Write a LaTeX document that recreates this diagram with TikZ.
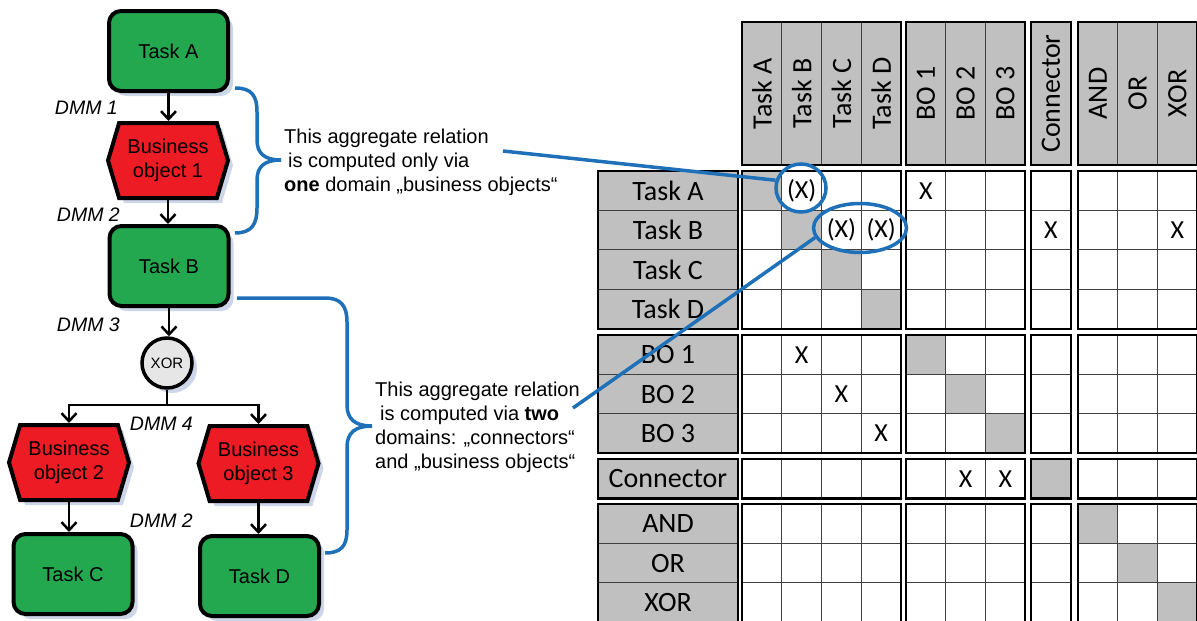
\documentclass[tikz,border=0pt]{standalone}
\usepackage{fontspec}
\setmainfont{Liberation Sans}
\newfontfamily\calibrifont{Carlito}
\usepackage{tikz}
\usetikzlibrary{shapes.geometric,shapes.symbols,arrows.meta,positioning,calc,shadows}
\definecolor{taskgreen}{RGB}{35,168,80}
\definecolor{objectred}{RGB}{237,28,36}
\definecolor{gatelight}{RGB}{230,230,230}
\definecolor{shadowblue}{RGB}{205,214,232}
\definecolor{relblue}{RGB}{30,112,184}
\definecolor{cellgrey}{RGB}{192,192,192}

\tikzset{
  softshadow/.style={drop shadow={shadow xshift=5pt, shadow yshift=-5pt, fill=shadowblue, opacity=1}},
  taskbox/.style={draw, line width=4pt, fill=taskgreen, rounded corners=12pt, minimum width=119pt, minimum height=80pt, font=\fontsize{20}{24}\selectfont, softshadow},
  objbox/.style={shape=signal, signal to=west and east, signal pointer angle=147, draw, line width=4pt, fill=objectred, minimum width=120pt, minimum height=75pt, inner sep=0pt, align=center, font=\fontsize{20}{24}\selectfont, softshadow},
  gatebox/.style={circle, draw, line width=3.5pt, fill=gatelight, minimum size=50pt, inner sep=0pt, font=\fontsize{15}{15}\selectfont, softshadow},
  dmm/.style={anchor=east, inner sep=0pt, font=\itshape\fontsize{19.5}{19.5}\selectfont},
  flow/.style={line width=2.5pt, -{Straight Barb[length=8pt, width=15pt]}},
  note/.style={anchor=north west, align=left, inner sep=0pt, font=\fontsize{20}{24}\selectfont},
  brace/.style={draw=relblue, line width=3.5pt},
  ring/.style={ellipse, draw=relblue, line width=3.5pt, inner sep=0pt},
  lead/.style={draw=relblue, line width=3.5pt},
  hdr/.style={inner sep=0pt, font=\calibrifont\fontsize{28}{28}\selectfont},
  xmark/.style={inner sep=0pt, font=\calibrifont\fontsize{26}{26}\selectfont},
  thinrule/.style={line width=0.9pt, draw=black!75},
  blockrule/.style={line width=2.2pt, draw=black},
}

\begin{document}
\begin{tikzpicture}[x=1pt, y=-1pt]
  \useasboundingbox (0,0) rectangle (1197,621);

  % process chain
  \node[taskbox] (taskA) at (168.5,51) {Task A};
  \node[objbox] (bo1) at (168,160.5) {Business\\object 1};
  \node[taskbox] (taskB) at (169,266) {Task B};
  \node[gatebox] (xor) at (167,363) {XOR};
  \coordinate (fork) at (167,405);
  \node[objbox] (bo2) at (69,462.5) {Business\\object 2};
  \node[objbox] (bo3) at (258.5,463.5) {Business\\object 3};
  \node[taskbox] (taskC) at (73,574) {Task C};
  \node[taskbox] (taskD) at (259.5,576) {Task D};

  \draw[flow] (taskA.south) -- (taskA.south |- bo1.north);
  \draw[flow] (bo1.south) -- (bo1.south |- taskB.north);
  \draw[flow] (taskB.south) -- (taskB.south |- xor.north);
  \draw[line width=2.5pt] (xor.south) -- (fork);
  \draw[flow] (fork) -| (bo2.north);
  \draw[flow] (fork) -| (bo3.north);
  \draw[flow] (bo2.south) -- (bo2.south |- taskC.north);
  \draw[flow] (bo3.south) -- (bo3.south |- taskD.north);

  \node[dmm] (dmm1) at (118,108) {DMM 1};
  \node[dmm] (dmm2) at (120,215) {DMM 2};
  \node[dmm] (dmm3) at (120,325) {DMM 3};
  \node[dmm] (dmm4) at (193,424) {DMM 4};
  \node[dmm] (dmm5) at (193,521) {DMM 2};

  % braces and notes
  \draw[brace] (235,88) .. controls (252,88) and (257,96) .. (257,112) -- (257,140)
    .. controls (257,153) and (264,160) .. (281,160)
    .. controls (264,160) and (257,167) .. (257,180) -- (257,208)
    .. controls (257,224) and (252,233) .. (235,233);
  \draw[brace] (237,298) -- (325,298) .. controls (341,298) and (347,306) .. (347,322) -- (347,405)
    .. controls (347,419) and (355,426) .. (372,426)
    .. controls (355,426) and (347,433) .. (347,447) -- (347,530)
    .. controls (347,546) and (341,553) .. (325,553);

  \node[note] (note1) at (284,129) {This aggregate relation\\\hspace{4pt}is computed only via\\\textbf{one} domain „business objects“};
  \node[note] (note2) at (375,382) {This aggregate relation\\\hspace{5pt}is computed via \textbf{two}\\domains: „connectors“\\and „business objects“};

  % DSM: column headers
  \def\cw{39.75}
  \def\rh{39.4}
  \foreach \gx/\n/\o in {742/4/0,906/3/4,1031/1/7,1078/3/8}{
    \foreach \a in {1,...,\n}{
      \pgfmathtruncatemacro\colno{\o+\a}
      \draw[thinrule, fill=cellgrey] ({\gx+(\a-1)*\cw},22) rectangle ({\gx+\a*\cw},165);
      \coordinate (col-\colno) at ({\gx+(\a-0.5)*\cw},93.5);
    }
    \draw[blockrule] (\gx,22) rectangle ({\gx+\n*\cw},165);
  }
  % row headers
  \foreach \gy/\m/\p in {171/4/0,335/3/4,459/1/7,504/3/8}{
    \foreach \b in {1,...,\m}{
      \pgfmathtruncatemacro\rowno{\p+\b}
      \draw[thinrule, fill=cellgrey] (598,{\gy+(\b-1)*\rh}) rectangle (738,{\gy+\b*\rh});
      \coordinate (row-\rowno) at (668,{\gy+(\b-0.5)*\rh});
    }
    \draw[blockrule] (598,\gy) rectangle (738,{\gy+\m*\rh});
  }
  % body
  \foreach \gx/\n/\o in {742/4/0,906/3/4,1031/1/7,1078/3/8}{
    \foreach \gy/\m/\p in {171/4/0,335/3/4,459/1/7,504/3/8}{
      \foreach \a in {1,...,\n}{
        \foreach \b in {1,...,\m}{
          \pgfmathtruncatemacro\colno{\o+\a}
          \pgfmathtruncatemacro\rowno{\p+\b}
          \ifnum\colno=\rowno\relax \def\cellfill{cellgrey}\else \def\cellfill{white}\fi
          \draw[thinrule, fill=\cellfill] ({\gx+(\a-1)*\cw},{\gy+(\b-1)*\rh}) rectangle ({\gx+\a*\cw},{\gy+\b*\rh});
          \coordinate (cell-\rowno-\colno) at ({\gx+(\a-0.5)*\cw},{\gy+(\b-0.5)*\rh});
        }
      }
      \draw[blockrule] (\gx,\gy) rectangle ({\gx+\n*\cw},{\gy+\m*\rh});
    }
  }

  \foreach \t [count=\i] in {Task A,Task B,Task C,Task D,BO 1,BO 2,BO 3,Connector,AND,OR,XOR}{
    \node[hdr, rotate=90] (colname-\i) at (col-\i) {\t};
    \node[hdr] (rowname-\i) at (row-\i) {\t};
  }

  \foreach \rowno/\colno in {1/5,2/8,2/11,5/2,6/3,7/4,8/6,8/7}
    \node[xmark] (mark-\rowno-\colno) at (cell-\rowno-\colno) {X};
  \foreach \rowno/\colno in {1/2,2/3,2/4}
    \node[xmark] (mark-\rowno-\colno) at (cell-\rowno-\colno) {(X)};

  % highlighted relations
  \node[ring, minimum width=50pt, minimum height=48pt] (ring1) at (801,188) {};
  \node[ring, minimum width=93pt, minimum height=49pt] (ring2) at (860,228) {};
  \coordinate (lead1) at (503,151);
  \coordinate (lead2) at (573,408);
  \draw[lead] (lead1) -- (ring1.163);
  \draw[lead] (lead2) -- (ring2.192);
\end{tikzpicture}
\end{document}
